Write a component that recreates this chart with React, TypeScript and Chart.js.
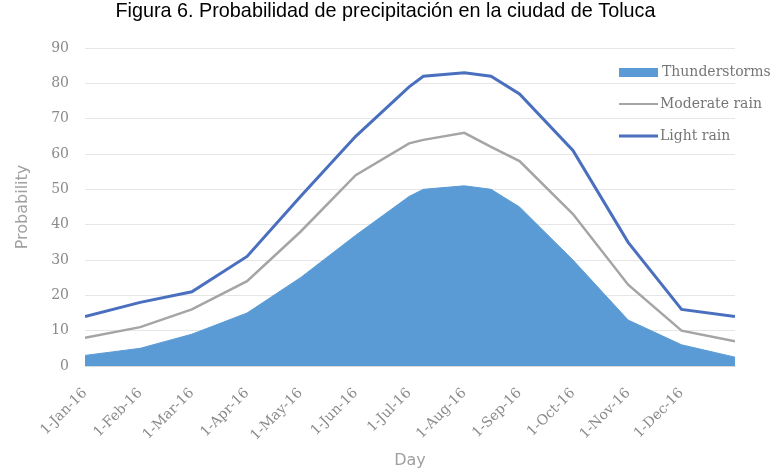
import React, { useEffect, useRef } from "react";
import { Chart, registerables } from "chart.js";

Chart.register(...registerables);

const TITLE = "Figura 6. Probabilidad de precipitación en la ciudad de Toluca";
const X_TITLE = "Day";
const Y_TITLE = "Probability";

// day of year (0 = 1-Jan-16) for each data point
const dayOffsets = [0, 31, 60, 91, 121, 152, 182, 190, 213, 228, 244, 274, 305, 335, 365];
const thunderstorms = [3, 5, 9, 15, 25, 37, 48, 50, 51, 50, 45, 30, 13, 6, 2.5];
const moderateRain = [8, 11, 16, 24, 38, 54, 63, 64, 66, 62, 58, 43, 23, 10, 7];
const lightRain = [14, 18, 21, 31, 48, 65, 79, 82, 83, 82, 77, 61, 35, 16, 14];

const monthStartDays = [0, 31, 60, 91, 121, 152, 182, 213, 244, 274, 305, 335];
const monthLabels = [
  "1-Jan-16", "1-Feb-16", "1-Mar-16", "1-Apr-16", "1-May-16", "1-Jun-16",
  "1-Jul-16", "1-Aug-16", "1-Sep-16", "1-Oct-16", "1-Nov-16", "1-Dec-16",
];
const seriesNames = ["Thunderstorms", "Moderate rain", "Light rain"];

const COLOR_THUNDER = "#5B9BD5";
const COLOR_MODERATE = "#A5A5A5";
const COLOR_LIGHT = "#4A6FBE";

const toPoints = (vals: number[]) => dayOffsets.map((d, i) => ({ x: d, y: vals[i] }));

const titlePlugin = {
  id: "pageTitle",
  afterDraw(chart: any) {
    const { ctx, width } = chart;
    ctx.save();
    ctx.font = "19.8px 'Liberation Sans'";
    ctx.fillStyle = "#000";
    ctx.textAlign = "center";
    ctx.textBaseline = "middle";
    ctx.fillText(TITLE, width / 2, 12);
    ctx.restore();
  },
};

const legendPlugin = {
  id: "insideLegend",
  afterDraw(chart: any) {
    const { ctx, chartArea } = chart;
    const x0 = chartArea.right - 116;
    const rows = [chartArea.top + 24, chartArea.top + 56, chartArea.top + 88];
    ctx.save();
    ctx.font = "14px 'DejaVu Serif'";
    ctx.textBaseline = "middle";
    ctx.textAlign = "left";
    ctx.fillStyle = COLOR_THUNDER;
    ctx.fillRect(x0, rows[0] - 4, 39, 9);
    ctx.strokeStyle = COLOR_MODERATE;
    ctx.lineWidth = 2;
    ctx.beginPath();
    ctx.moveTo(x0, rows[1]);
    ctx.lineTo(x0 + 39, rows[1]);
    ctx.stroke();
    ctx.strokeStyle = COLOR_LIGHT;
    ctx.lineWidth = 3;
    ctx.beginPath();
    ctx.moveTo(x0, rows[2]);
    ctx.lineTo(x0 + 39, rows[2]);
    ctx.stroke();
    ctx.fillStyle = "#767676";
    ctx.fillText(seriesNames[0], x0 + 43, rows[0]);
    ctx.fillText(seriesNames[1], x0 + 41, rows[1]);
    ctx.fillText(seriesNames[2], x0 + 41, rows[2]);
    ctx.restore();
  },
};

export default function App() {
  const ref = useRef<HTMLCanvasElement>(null);
  useEffect(() => {
    document.body.style.margin = "0";
    const chart = new Chart(ref.current as HTMLCanvasElement, {
      type: "line",
      data: {
        datasets: [
          {
            label: seriesNames[2],
            data: toPoints(lightRain),
            borderColor: COLOR_LIGHT,
            borderWidth: 3,
            pointRadius: 0,
            fill: false,
            tension: 0,
          },
          {
            label: seriesNames[1],
            data: toPoints(moderateRain),
            borderColor: COLOR_MODERATE,
            borderWidth: 2.5,
            pointRadius: 0,
            fill: false,
            tension: 0,
          },
          {
            label: seriesNames[0],
            data: toPoints(thunderstorms),
            borderColor: COLOR_THUNDER,
            backgroundColor: COLOR_THUNDER,
            borderWidth: 1,
            pointRadius: 0,
            fill: "origin",
            tension: 0,
          },
        ],
      },
      options: {
        animation: false,
        responsive: false,
        layout: { padding: { left: 0, right: 36, top: 48, bottom: 0 } },
        plugins: {
          legend: { display: false },
          tooltip: { enabled: false },
          title: { display: false },
        },
        scales: {
          x: {
            type: "linear",
            min: 0,
            max: 365,
            afterBuildTicks: (scale: any) => {
              scale.ticks = monthStartDays.map((v) => ({ value: v }));
            },
            afterFit: (scale: any) => {
              scale.height = 105;
            },
            ticks: {
              autoSkip: false,
              minRotation: 45,
              maxRotation: 45,
              padding: 19,
              color: "#8a8a8a",
              font: { family: "'DejaVu Serif'", size: 14 },
              callback: (_v: any, i: number) => monthLabels[i],
            },
            grid: { display: false, drawTicks: false },
            border: { display: true, color: "#d9d9d9" },
            title: {
              display: true,
              text: X_TITLE,
              color: "#a0a0a0",
              font: { family: "'DejaVu Sans'", size: 16 },
              padding: { top: 0, bottom: 1 },
            },
          },
          y: {
            min: 0,
            max: 90,
            afterFit: (scale: any) => {
              scale.width = 85;
            },
            ticks: {
              stepSize: 10,
              padding: 16,
              color: "#8a8a8a",
              font: { family: "'DejaVu Serif'", size: 14 },
            },
            grid: { color: "#e6e6e6", drawTicks: false },
            border: { display: false },
            title: {
              display: true,
              text: Y_TITLE,
              color: "#a0a0a0",
              font: { family: "'DejaVu Sans'", size: 16 },
              padding: { top: 13, bottom: 0 },
            },
          },
        },
      },
      plugins: [titlePlugin, legendPlugin],
    } as any);
    return () => chart.destroy();
  }, []);
  return <canvas ref={ref} width={771} height={471} style={{ display: "block" }} />;
}
